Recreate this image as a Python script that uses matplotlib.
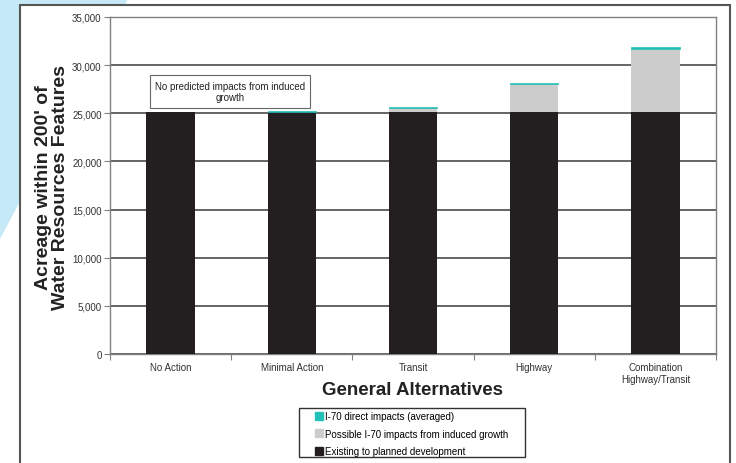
import numpy as np
import matplotlib
matplotlib.use("Agg")
import matplotlib.pyplot as plt
from matplotlib.lines import Line2D
from matplotlib.patches import Polygon, Rectangle

plt.rcParams["font.family"] = ["Liberation Sans", "DejaVu Sans"]

CATS = ["No Action", "Minimal Action", "Transit", "Highway", "Combination\nHighway/Transit"]
EXISTING = [25100, 25100, 25100, 25100, 25100]
INDUCED = [0, 0, 450, 2900, 6600]
DIRECT = [0, 150, 150, 150, 150]
YTICKS = [0, 5000, 10000, 15000, 20000, 25000, 30000, 35000]
LABELS = ["I-70 direct impacts (averaged)",
          "Possible I-70 impacts from induced growth",
          "Existing to planned development"]
C_DIRECT, C_INDUCED, C_EXIST = "#22c0b6", "#cccccc", "#231f20"

W, H = 736, 464
fig = plt.figure(figsize=(W / 100, H / 100), dpi=100)

# decorative light-blue wedge and the outer chart frame
fig.patches.append(Polygon([(0, 1), (128 / W, 1), (0, 1 - 240 / H)], closed=True,
                           transform=fig.transFigure, facecolor="#c6e9f8", edgecolor="none", zorder=0))
fig.patches.append(Rectangle((20 / W, -0.05), 710 / W, 1 - 6 / H + 0.05,
                             transform=fig.transFigure, facecolor="white", edgecolor="#555555",
                             lw=1.5, zorder=1))

ax = fig.add_axes([110 / W, 1 - 355 / H, 606 / W, 337 / H])
ax.set_zorder(2)
x = np.arange(len(CATS))
w = 0.40
ex = np.array(EXISTING)
ind = np.array(INDUCED)
ax.bar(x, ex, w, color=C_EXIST, zorder=3)
ax.bar(x, ind, w, bottom=ex, color=C_INDUCED, zorder=3)
direct = np.array(DIRECT)
ax.bar(x[direct > 0], direct[direct > 0], w, bottom=(ex + ind)[direct > 0], color=C_DIRECT,
       edgecolor=C_DIRECT, lw=0.5, zorder=4)

ax.set_xlim(-0.5, len(CATS) - 0.5)
ax.set_ylim(0, 35000)
ax.set_yticks(YTICKS)
ax.set_yticklabels([f"{v:,}" for v in YTICKS], fontsize=7, color="#333333")
ax.yaxis.grid(True, color="#3a3a3a", lw=1.1, zorder=0)
ax.set_axisbelow(True)
ax.set_xticks(np.arange(len(CATS) + 1) - 0.5)
ax.set_xticklabels([])
ax.set_xticks(x, minor=True)
ax.set_xticklabels(CATS, minor=True, fontsize=7, color="#333333")
ax.tick_params(axis="x", which="minor", length=0, pad=6)
ax.tick_params(axis="x", which="major", length=4, color="#808080")
ax.tick_params(axis="y", length=4, color="#808080", pad=2)
for s in ax.spines.values():
    s.set_color("#808080")
    s.set_linewidth(1.0)

fig.text(413 / W, 1 - 391 / H, "General Alternatives", ha="center", va="center",
         fontsize=13.5, fontweight="bold", color="#222222")
fig.text(52 / W, 1 - 188 / H, "Acreage within 200' of\nWater Resources Features", ha="center",
         va="center", rotation=90, fontsize=14, fontweight="bold", color="#222222",
         linespacing=1.0)

ax.text(0.49, 27260, "No predicted impacts from induced\ngrowth", ha="center", va="center",
        fontsize=7, color="#222222", zorder=5,
        bbox=dict(boxstyle="square,pad=0.55", facecolor="white", edgecolor="#666666", lw=0.8))

# legend: manual frame, entries from the library
fig.patches.append(Rectangle((299 / W, 1 - 458 / H), 226 / W, 49 / H, transform=fig.transFigure,
                             facecolor="white", edgecolor="#333333", lw=1.0, zorder=4))
handles = [Line2D([0], [0], marker="s", ls="none", markersize=5.5, color=c)
           for c in (C_DIRECT, C_INDUCED, C_EXIST)]
leg = fig.legend(handles, LABELS, loc="upper left", bbox_to_anchor=(311 / W, 1 - 409 / H),
                 fontsize=7, frameon=False, handletextpad=0.05, handlelength=1.0,
                 borderpad=0.35, labelspacing=0.75, borderaxespad=0)
leg.set_zorder(5)

fig.savefig("out.png", dpi=100)
